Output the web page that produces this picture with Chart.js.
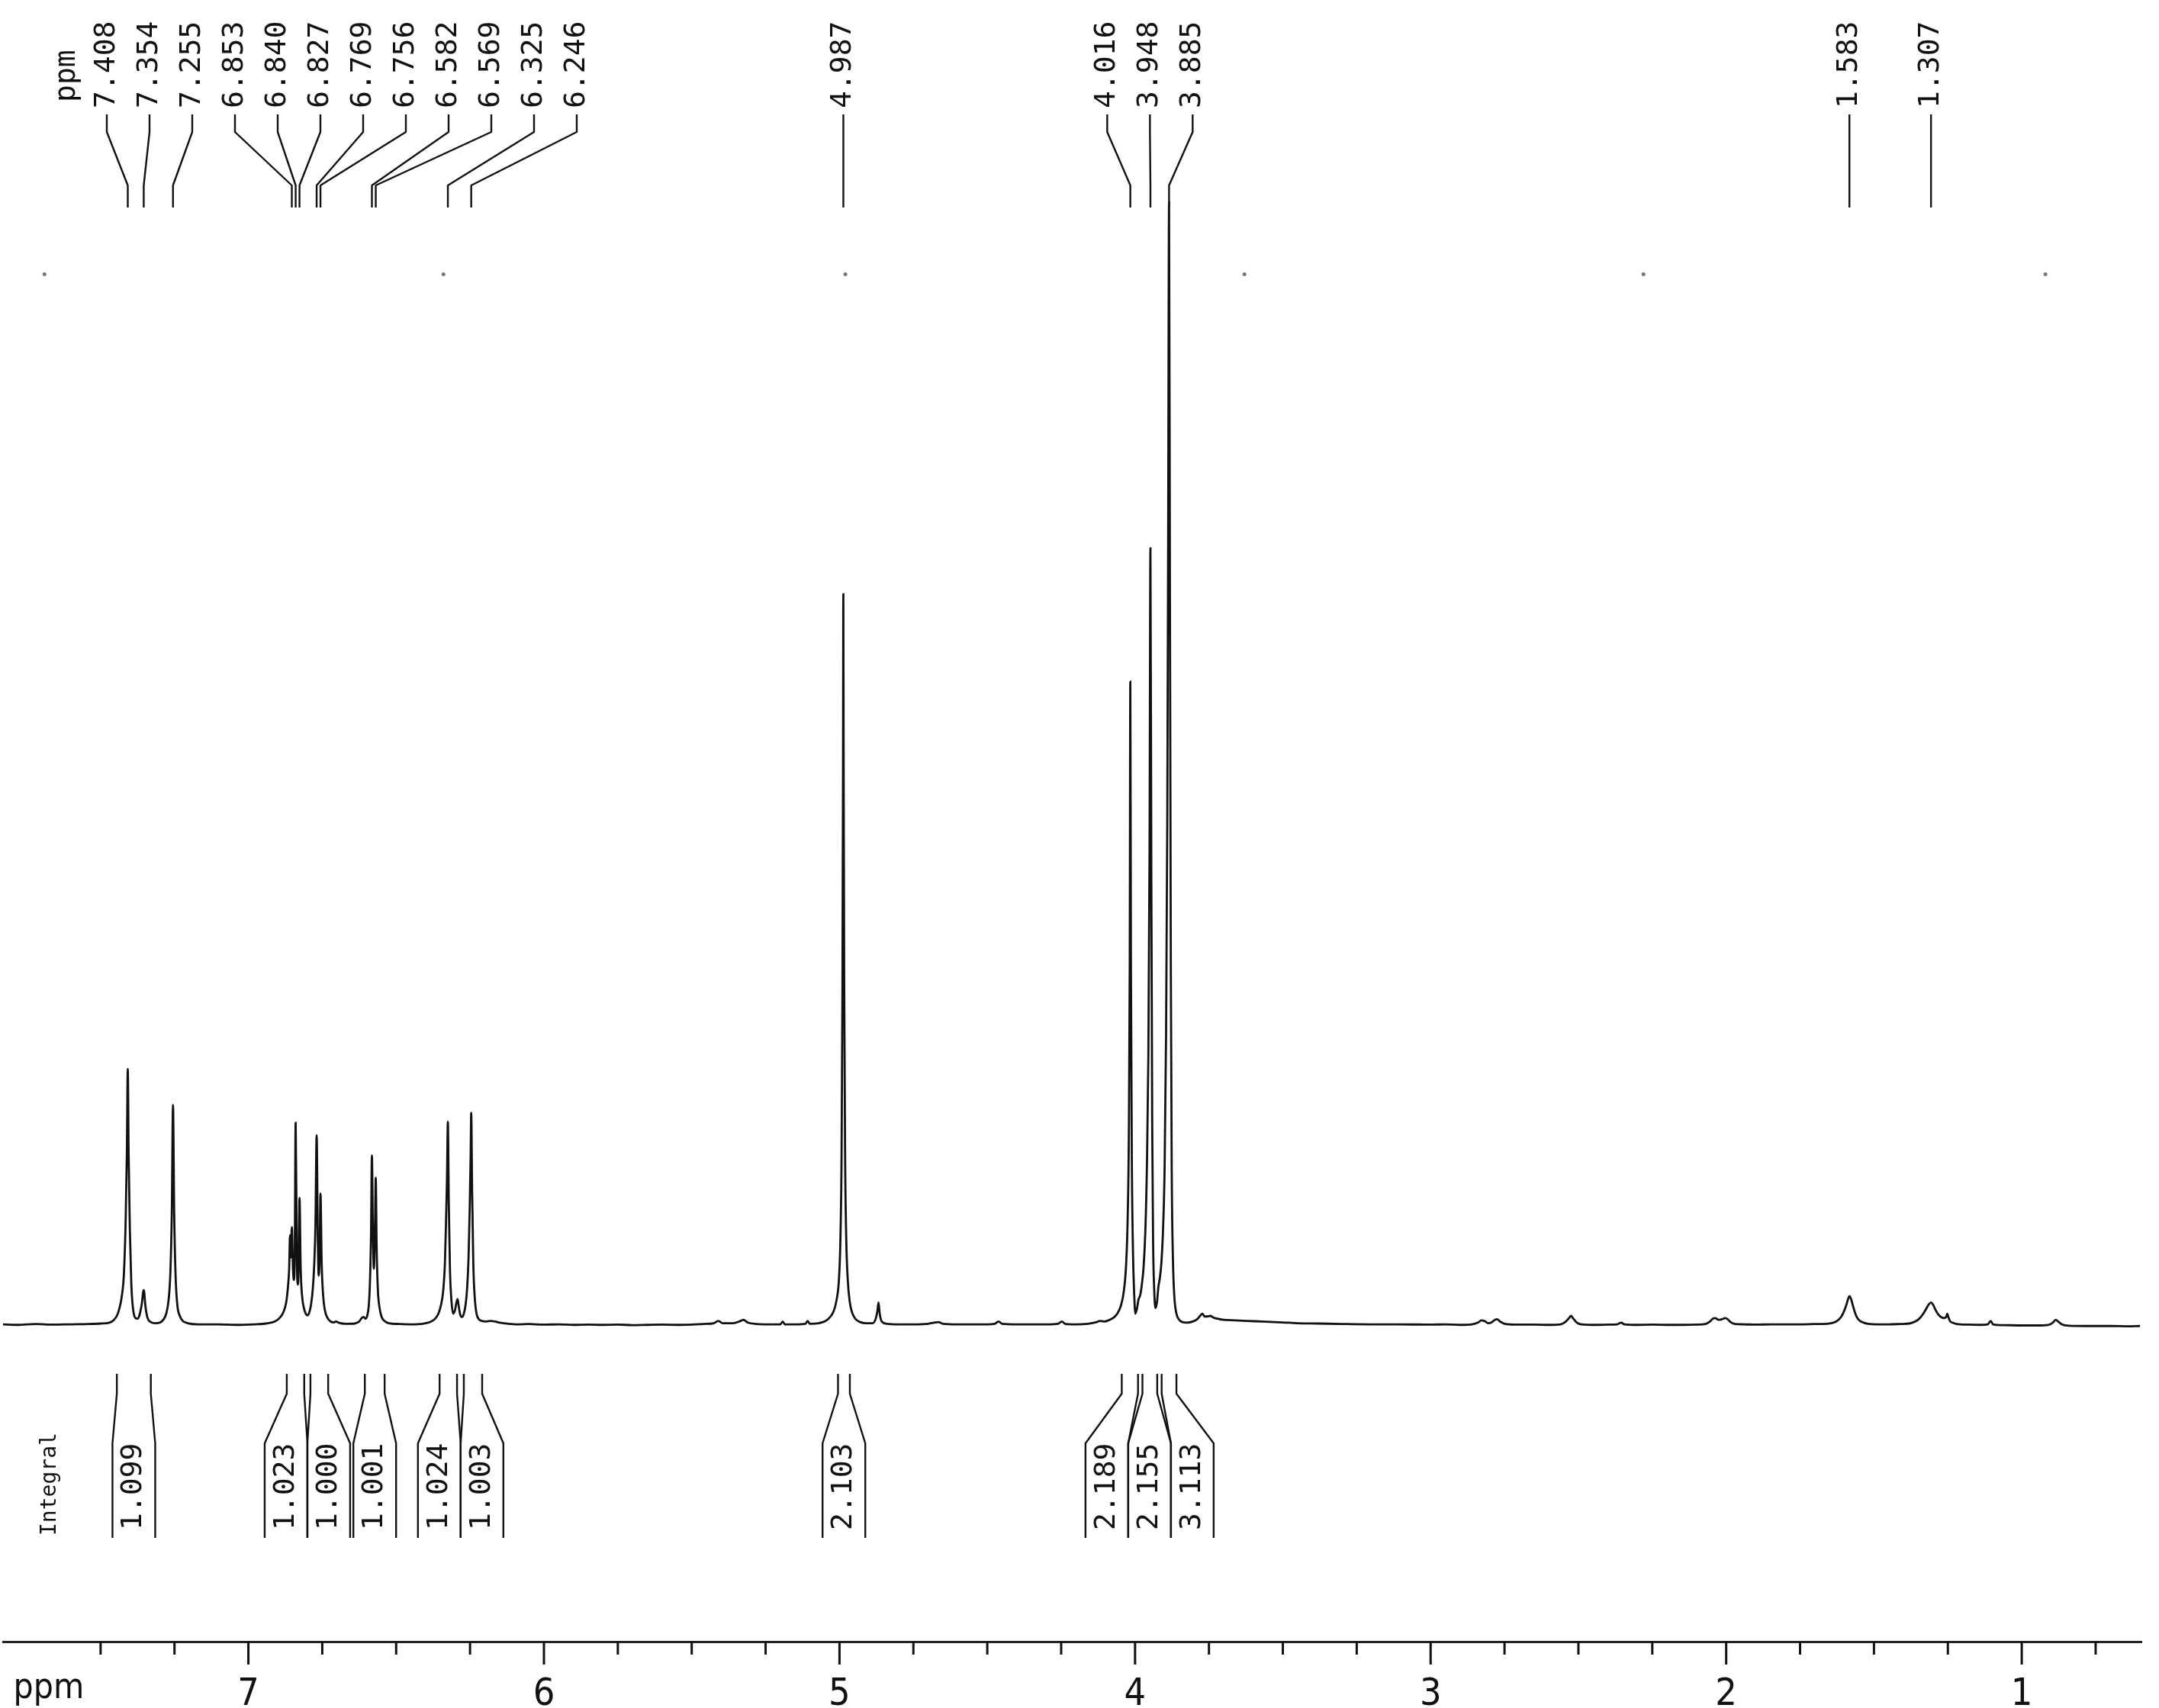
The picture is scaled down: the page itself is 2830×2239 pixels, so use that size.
<!DOCTYPE html>
<html>
<head>
<meta charset="utf-8">
<title>1H NMR</title>
<script src="https://cdn.jsdelivr.net/npm/chart.js@4.4.1/dist/chart.umd.min.js"></script>
<style>
  html, body { margin: 0; padding: 0; background: #fff; overflow: hidden; }
  canvas { display: block; }
</style>
</head>
<body>
<canvas id="espectro" width="2830" height="2239"></canvas>
<script>
// picos marcados no topo (ppm)
const peakShifts = [7.408, 7.354, 7.255, 6.853, 6.840, 6.827, 6.769, 6.756, 6.582, 6.569, 6.325, 6.246,
  4.987, 4.016, 3.948, 3.885, 1.583, 1.307];

// integrais: faixa [inicio, fim] em ppm e valor
const integralRanges = [[7.445, 7.33], [6.87, 6.811], [6.79, 6.73], [6.606, 6.539], [6.353, 6.294],
  [6.271, 6.209], [5.005, 4.965], [4.045, 3.99], [3.975, 3.925], [3.91, 3.86]];
const integralValues = [1.099, 1.023, 1.000, 1.001, 1.024, 1.003, 2.103, 2.189, 2.155, 3.113];

// eixo ppm
const axisTicks = [7.5, 7.25, 7, 6.75, 6.5, 6.25, 6, 5.75, 5.5, 5.25, 5, 4.75, 4.5, 4.25, 4,
  3.75, 3.5, 3.25, 3, 2.75, 2.5, 2.25, 2, 1.75, 1.5, 1.25, 1, 0.75];
const axisLabels = ["7", "6", "5", "4", "3", "2", "1"];

// traçado do espectro [ppm, intensidade %]
const aromaticTrace = [[7.83,0.05],[7.78,0.0],[7.72,0.08],[7.66,0.02],[7.6,0.05],[7.54,0.08],[7.5,0.12],[7.47,0.2],
  [7.455,0.45],[7.445,0.8],[7.436,1.5],[7.428,2.6],[7.421,4.6],[7.415,9.5],[7.411,15.5],[7.408,22.8],[7.405,15],
  [7.401,8.5],[7.396,3.6],[7.39,1.4],[7.382,0.6],[7.375,0.55],[7.368,0.9],[7.361,1.8],[7.354,3.1],[7.348,1.6],
  [7.341,0.6],[7.33,0.25],[7.315,0.15],[7.3,0.2],[7.288,0.45],[7.278,1.0],[7.27,2.2],[7.264,4.6],[7.259,10],
  [7.255,19.6],[7.251,10],[7.246,4.2],[7.24,1.7],[7.232,0.8],[7.222,0.35],[7.205,0.15],[7.17,0.05],[7.1,0.05],
  [7.04,0.0],[6.98,0.05],[6.94,0.12],[6.91,0.3],[6.895,0.6],[6.882,1.1],[6.872,2.0],[6.866,3.4],[6.862,5.0],
  [6.859,8.0],[6.856,6.0],[6.853,8.7],[6.849,5.0],[6.846,4.0],[6.843,6.5],[6.840,18.0],[6.836,6.0],[6.833,3.6],
  [6.830,5.0],[6.827,11.3],[6.823,5.0],[6.818,2.5],[6.812,1.5],[6.806,1.0],[6.800,0.85],[6.794,1.1],[6.788,1.8],
  [6.782,3.2],[6.777,5.5],[6.773,9.0],[6.769,16.9],[6.765,7.5],[6.762,4.4],[6.759,6.0],[6.756,11.7],[6.752,5.5],
  [6.747,2.6],[6.741,1.3],[6.733,0.65],[6.724,0.35],[6.712,0.22],[6.703,0.3],[6.695,0.2],[6.67,0.1],[6.64,0.12],
  [6.625,0.3],[6.617,0.6],[6.61,0.7],[6.604,0.55],[6.598,0.8],[6.593,1.6],[6.589,3.5],[6.585,8.0],[6.582,15.1],
  [6.579,9.0],[6.5755,5.0],[6.572,8.0],[6.569,13.1],[6.566,7.0],[6.562,3.2],[6.556,1.5],[6.549,0.7],[6.54,0.35],
  [6.525,0.15],[6.49,0.08],[6.45,0.05],[6.41,0.1],[6.385,0.25],[6.368,0.55],[6.357,1.0],[6.348,1.8],[6.341,3.0],
  [6.335,5.5],[6.331,9.5],[6.328,13],[6.325,18.1],[6.322,11],[6.318,5.0],[6.313,2.2],[6.307,1.0],[6.301,1.3],
  [6.296,2.0],[6.292,2.3],[6.288,1.6],[6.283,0.9],[6.277,0.7],[6.271,1.0],[6.265,1.8],[6.26,3.2],[6.255,6.0],
  [6.251,10.5],[6.248,15],[6.246,18.9],[6.243,12],[6.239,5.5],[6.234,2.4],[6.228,1.0],[6.22,0.5],[6.21,0.35],
  [6.195,0.3],[6.18,0.35],[6.165,0.3],[6.15,0.2],[6.12,0.1],[6.09,0.05]];

const olefinicTrace = [[6.05,0.08],[6.0,0.02],[5.95,0.05],[5.9,0.0],[5.85,0.03],[5.8,0.0],[5.75,0.02],[5.7,-0.02],
  [5.65,0.0],[5.6,0.02],[5.55,0.0],[5.5,0.03],[5.46,0.08],[5.425,0.15],[5.41,0.35],[5.395,0.15],[5.36,0.15],
  [5.335,0.35],[5.325,0.45],[5.31,0.2],[5.28,0.08],[5.24,0.05],[5.2,0.05],[5.192,0.3],[5.185,0.05],[5.15,0.05],
  [5.115,0.1],[5.108,0.35],[5.1,0.1],[5.07,0.15],[5.05,0.3],[5.035,0.6],[5.02,1.2],[5.01,2.2],[5.002,4.0],
  [4.997,7.5],[4.993,15],[4.99,30],[4.988,50],[4.987,65.1],[4.986,50],[4.984,30],[4.981,15],[4.977,7.5],
  [4.972,4.0],[4.965,2.0],[4.956,1.0],[4.945,0.5],[4.93,0.25],[4.91,0.15],[4.888,0.15],[4.878,0.5],[4.872,1.2],
  [4.868,2.0],[4.864,1.0],[4.857,0.3],[4.84,0.1],[4.8,0.05],[4.75,0.05],[4.7,0.1],[4.68,0.2],[4.665,0.25],
  [4.65,0.1],[4.6,0.05],[4.55,0.05],[4.5,0.05],[4.475,0.1],[4.462,0.3],[4.45,0.1],[4.4,0.05],[4.35,0.05],
  [4.3,0.05],[4.26,0.1],[4.248,0.3],[4.235,0.08],[4.2,0.05],[4.16,0.1],[4.13,0.25],[4.12,0.35],[4.105,0.3]];

const methoxyTrace = [[4.09,0.4],[4.075,0.6],[4.06,1.0],[4.048,1.7],[4.038,3.0],[4.03,5.5],[4.025,9.5],[4.021,17],
  [4.018,32],[4.016,57.3],[4.014,32],[4.011,15],[4.007,6.5],[4.003,2.8],[3.999,1.0],[3.994,1.4],[3.988,2.3],
  [3.983,2.6],[3.977,3.6],[3.971,5.2],[3.965,8.5],[3.96,14],[3.955,24],[3.951,42],[3.948,69.2],[3.945,40],
  [3.942,18],[3.939,7.5],[3.935,3.0],[3.931,1.5],[3.926,2.0],[3.921,3.4],[3.916,4.2],[3.911,5.5],[3.906,8],
  [3.9,14],[3.895,26],[3.891,45],[3.888,70],[3.885,100],[3.882,65],[3.879,32],[3.876,14],[3.872,6],[3.867,2.5],
  [3.86,1.0],[3.852,0.5],[3.84,0.25],[3.825,0.2],[3.805,0.3],[3.79,0.5],[3.78,0.8],[3.772,1.0],[3.765,0.75],
  [3.755,0.75],[3.745,0.8],[3.735,0.65],[3.72,0.55],[3.7,0.45],[3.66,0.4],[3.62,0.35],[3.57,0.3],[3.5,0.22],
  [3.45,0.15],[3.38,0.12],[3.3,0.08],[3.2,0.05]];

const aliphaticTrace = [[3.1,0.05],[3.0,0.02],[2.95,0.05],[2.9,0.0],[2.86,0.05],[2.84,0.2],[2.828,0.4],[2.818,0.35],
  [2.805,0.15],[2.795,0.2],[2.783,0.45],[2.775,0.5],[2.765,0.3],[2.75,0.1],[2.7,0.02],[2.65,0.03],[2.6,0.0],
  [2.56,0.05],[2.545,0.25],[2.532,0.6],[2.525,0.8],[2.517,0.55],[2.505,0.2],[2.49,0.05],[2.44,0.0],[2.4,0.02],
  [2.37,0.05],[2.355,0.2],[2.345,0.05],[2.3,0.0],[2.25,0.02],[2.2,0.0],[2.15,0.0],[2.1,0.02],[2.07,0.08],
  [2.055,0.3],[2.045,0.55],[2.038,0.6],[2.025,0.45],[2.015,0.5],[2.003,0.6],[1.995,0.5],[1.985,0.25],[1.97,0.08],
  [1.94,0.05],[1.9,0.02],[1.85,0.05],[1.8,0.05],[1.75,0.05],[1.7,0.08],[1.66,0.1],[1.64,0.18],[1.625,0.35],
  [1.61,0.75],[1.6,1.3],[1.592,1.9],[1.587,2.35],[1.583,2.55],[1.578,2.35],[1.572,1.8],[1.565,1.15],[1.557,0.65],
  [1.547,0.35],[1.535,0.2],[1.52,0.1],[1.49,0.05],[1.45,0.05],[1.41,0.08],[1.38,0.12],[1.36,0.3],[1.345,0.6],
  [1.333,1.0],[1.322,1.5],[1.314,1.85],[1.307,2.0],[1.3,1.8],[1.292,1.35],[1.283,0.95],[1.273,0.7],[1.263,0.6],
  [1.256,0.7],[1.252,1.0],[1.249,0.75],[1.243,0.35],[1.235,0.2],[1.22,0.08],[1.18,0.02],[1.14,0.0],[1.115,0.05],
  [1.105,0.35],[1.097,0.05],[1.06,-0.02],[1.0,-0.05],[0.95,-0.05],[0.91,0.0],[0.895,0.2],[0.885,0.45],
  [0.877,0.3],[0.865,0.05],[0.84,-0.08],[0.78,-0.1],[0.7,-0.1],[0.64,-0.12],[0.6,-0.1]];

// pontinhos de registro do papel
const markerDots = [[7.69, 93.6], [6.34, 93.6], [4.98, 93.6], [3.63, 93.6], [2.28, 93.6], [0.92, 93.6]];

const monoFont = '"DejaVu Sans Mono", "Liberation Mono", monospace';
const narrowFont = '"DejaVu Sans", sans-serif';

// espalha rótulos que se sobrepõem (centro do grupo na média)
function espalhar(centros, largura, minX) {
  let grupos = centros.map((c, i) => ({ idx: [i], soma: c }));
  const inicio = g => Math.max(minX, g.soma / g.idx.length - (g.idx.length - 1) * largura / 2);
  let mudou = true;
  while (mudou) {
    mudou = false;
    for (let i = 0; i < grupos.length - 1; i++) {
      const a = grupos[i], b = grupos[i + 1];
      if (inicio(a) + a.idx.length * largura > inicio(b)) {
        grupos.splice(i, 2, { idx: a.idx.concat(b.idx), soma: a.soma + b.soma });
        mudou = true;
        break;
      }
    }
  }
  const pos = [];
  grupos.forEach(g => { const s = inicio(g); g.idx.forEach((k, j) => { pos[k] = s + j * largura; }); });
  return pos;
}

function textoVertical(ctx, txt, x, yBase, font) {
  ctx.save();
  ctx.translate(x, yBase);
  ctx.rotate(-Math.PI / 2);
  ctx.font = font;
  ctx.textAlign = "left";
  ctx.textBaseline = "middle";
  ctx.fillText(txt, 0, 0);
  ctx.restore();
}

const anotacoes = {
  id: "anotacoes",
  afterDraw(chart) {
    const ctx = chart.ctx;
    const xs = chart.scales.x;
    ctx.save();
    ctx.strokeStyle = "#111";
    ctx.fillStyle = "#111";
    ctx.lineWidth = 2.4;
    ctx.lineJoin = "round";

    // marcas do eixo
    const yEixo = xs.top;
    axisTicks.forEach(v => {
      const x = xs.getPixelForValue(v);
      const major = Math.abs(v - Math.round(v)) < 1e-6;
      ctx.beginPath();
      ctx.moveTo(x, yEixo);
      ctx.lineTo(x, yEixo + (major ? 30 : 17));
      ctx.lineWidth = 3;
      ctx.stroke();
    });
    ctx.lineWidth = 2.4;
    ctx.font = "normal normal condensed 46px " + narrowFont;
    ctx.textAlign = "center";
    ctx.textBaseline = "middle";
    ctx.fillText("ppm", 64, 2214);

    // rótulos dos picos
    const picoX = peakShifts.map(p => xs.getPixelForValue(p));
    const rotX = espalhar(picoX, 56, 140);
    textoVertical(ctx, "ppm", 88, 134, "38px " + monoFont);
    peakShifts.forEach((p, i) => {
      textoVertical(ctx, p.toFixed(3), rotX[i], 142, "38px " + monoFont);
      ctx.beginPath();
      ctx.moveTo(rotX[i], 150);
      ctx.lineTo(rotX[i], 173);
      ctx.lineTo(picoX[i], 243);
      ctx.lineTo(picoX[i], 272);
      ctx.stroke();
    });

    // integrais
    const centros = integralRanges.map(r => (xs.getPixelForValue(r[0]) + xs.getPixelForValue(r[1])) / 2);
    const caixa = espalhar(centros, 56, -1e9);
    textoVertical(ctx, "Integral", 66, 2013, "28px " + monoFont);
    integralRanges.forEach((r, i) => {
      const xa = xs.getPixelForValue(r[0]);
      const xb = xs.getPixelForValue(r[1]);
      const bl = caixa[i] - 28, br = caixa[i] + 28;
      [[xa, bl], [xb, br]].forEach(([xt, xbx]) => {
        ctx.beginPath();
        ctx.moveTo(xt, 1801);
        ctx.lineTo(xt, 1827);
        ctx.lineTo(xbx, 1892);
        ctx.lineTo(xbx, 2016);
        ctx.stroke();
      });
      textoVertical(ctx, integralValues[i].toFixed(3), caixa[i], 2006, "38px " + monoFont);
    });
    ctx.restore();
  }
};

const espectro = aromaticTrace.concat(olefinicTrace, methoxyTrace, aliphaticTrace)
  .map(([x, y]) => ({ x, y }));

new Chart(document.getElementById("espectro").getContext("2d"), {
  type: "line",
  data: {
    datasets: [
      {
        data: espectro,
        borderColor: "#111",
        borderWidth: 2.8,
        pointRadius: 0,
        fill: false,
        cubicInterpolationMode: "monotone"
      },
      {
        type: "scatter",
        data: markerDots.map(([x, y]) => ({ x, y })),
        pointRadius: 2.5,
        pointBackgroundColor: "#777",
        pointBorderWidth: 0,
        showLine: false
      }
    ]
  },
  options: {
    responsive: false,
    animation: false,
    events: [],
    layout: { padding: { left: 0, right: 23, top: 0, bottom: 0 } },
    plugins: { legend: { display: false }, tooltip: { enabled: false } },
    scales: {
      x: {
        type: "linear",
        reverse: true,
        min: 0.595,
        max: 7.83,
        grid: { display: false },
        border: { display: true, color: "#222", width: 3 },
        afterBuildTicks: s => { s.ticks = axisTicks.map(v => ({ value: v })); },
        afterFit: s => { s.height = 87; },
        ticks: {
          autoSkip: false,
          maxRotation: 0,
          padding: 32,
          color: "#111",
          font: { family: narrowFont, size: 50, weight: "normal condensed" },
          callback: v => {
            const t = String(Math.round(v));
            return Math.abs(v - Math.round(v)) < 1e-6 && axisLabels.includes(t) ? t : "";
          }
        }
      },
      y: { display: false, min: -28.22, max: 117.76 }
    }
  },
  plugins: [anotacoes]
});
</script>
</body>
</html>
